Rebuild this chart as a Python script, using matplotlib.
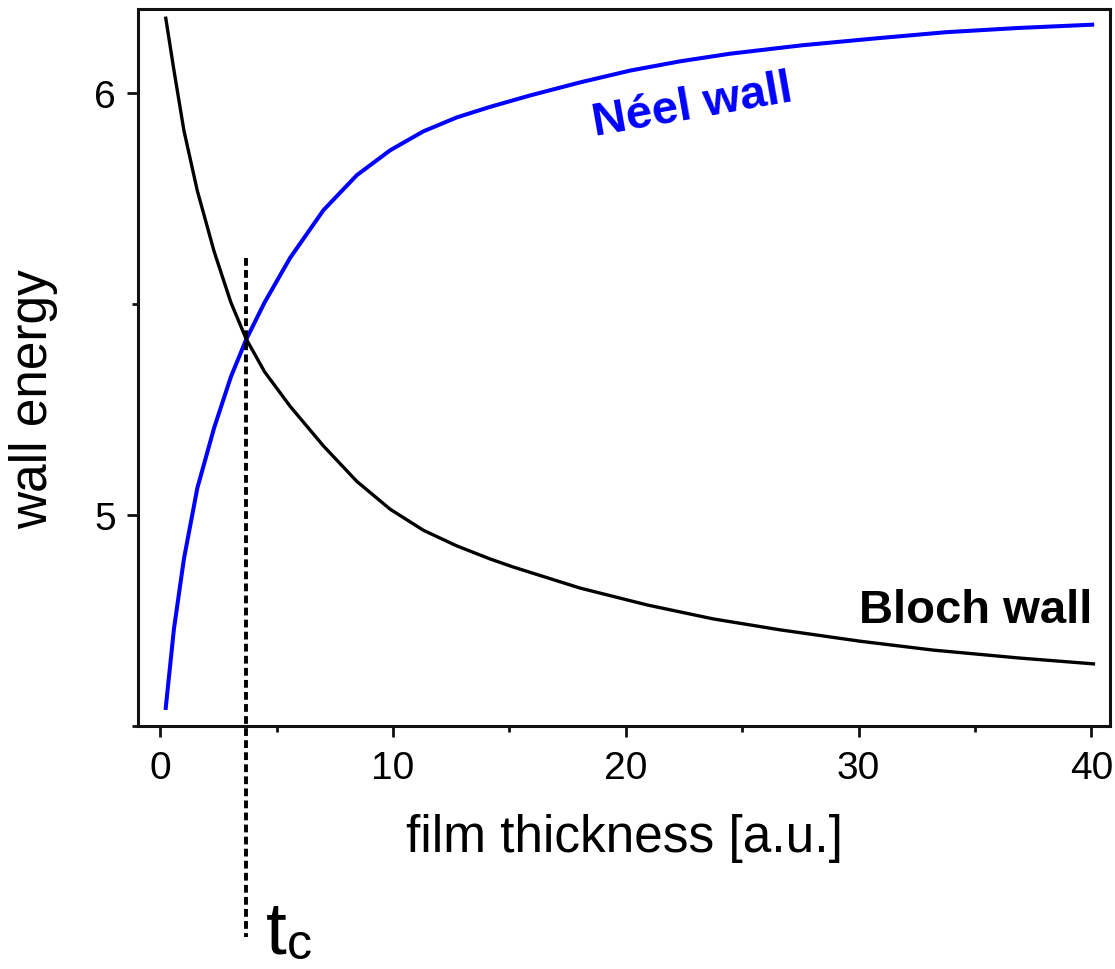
import matplotlib
matplotlib.use("Agg")
import matplotlib.pyplot as plt
from matplotlib.ticker import MultipleLocator, FixedLocator

plt.rcParams['font.family'] = ['Liberation Sans', 'DejaVu Sans']

# Néel wall (blue)
neel_x = [0.232, 0.593, 1.022, 1.598, 2.320, 3.041, 3.694, 4.485, 5.584, 7.015,
          8.449, 9.880, 11.31, 12.745, 14.175, 15.89, 18.04, 20.19, 22.34,
          24.48, 27.58, 30.67, 33.76, 36.86, 40.12]
neel_y = [4.538, 4.730, 4.896, 5.064, 5.207, 5.328, 5.416, 5.504, 5.610, 5.723,
          5.806, 5.865, 5.910, 5.943, 5.968, 5.995, 6.026, 6.054, 6.076,
          6.094, 6.114, 6.130, 6.145, 6.155, 6.163]

# Bloch wall (black)
bloch_x = [0.232, 0.593, 1.022, 1.598, 2.320, 3.041, 3.694, 4.485, 5.584, 7.015,
           8.449, 9.880, 11.31, 12.745, 14.175, 15.163, 18.04, 20.92, 23.75,
           26.63, 30.07, 33.20, 36.94, 40.16]
bloch_y = [6.182, 6.055, 5.912, 5.769, 5.625, 5.504, 5.418, 5.340, 5.258, 5.164,
           5.080, 5.014, 4.964, 4.927, 4.896, 4.877, 4.827, 4.787, 4.754,
           4.728, 4.701, 4.680, 4.661, 4.647]

t_c = 3.69
x_ticks = [0, 10, 20, 30, 40]
y_ticks = [5, 6]

W, H = 1115, 970
fig = plt.figure(figsize=(W / 100, H / 100), dpi=100)
ax = fig.add_axes([138 / W, 1 - 727 / H, (1110 - 138) / W, (727 - 10) / H])

ax.plot(neel_x, neel_y, color='#0000FF', lw=2.9, solid_capstyle='butt',
        solid_joinstyle='round')
ax.plot(bloch_x, bloch_y, color='black', lw=2.4, solid_capstyle='butt',
        solid_joinstyle='round')

# critical thickness marker (extends below the axes)
ax.plot([t_c, t_c], [5.61, 4.0], color='black', lw=2.8,
        linestyle=(0, (2.0, 1.1)), clip_on=False)

ax.set_xlim(-0.95, 40.8)
ax.set_ylim(4.5, 6.2)
ax.xaxis.set_major_locator(FixedLocator(x_ticks))
ax.xaxis.set_minor_locator(MultipleLocator(5))
ax.yaxis.set_major_locator(FixedLocator(y_ticks))
ax.yaxis.set_minor_locator(FixedLocator([4.5, 5.5]))
ax.tick_params(which='major', direction='out', length=8, width=2,
               labelsize=28, color='#111111')
ax.tick_params(axis='x', which='major', pad=9)
ax.tick_params(axis='y', which='major', pad=8)
ax.tick_params(which='minor', direction='out', length=4, width=2,
               color='#111111')
for s in ax.spines.values():
    s.set_linewidth(2.2)
    s.set_color('#111111')

ax.set_xlabel('film thickness [a.u.]', fontsize=37, labelpad=20)
ax.set_ylabel('wall energy', fontsize=37)
ax.yaxis.set_label_coords(-0.082, 0.457)

ax.text(22.85, 5.972, 'Néel wall', color='#0000FF', fontsize=34,
        fontweight='bold', rotation=10, ha='center', va='center',
        rotation_mode='anchor')
ax.text(40.03, 4.746, 'Bloch wall', color='black', fontsize=34,
        fontweight='bold', ha='right', va='baseline')

fig.text(266 / W, 1 - 954 / H, 't', fontsize=54, ha='left', va='baseline')
fig.text(287 / W, 1 - 959 / H, 'c', fontsize=36, ha='left', va='baseline')

fig.savefig('out.png', dpi=100)
